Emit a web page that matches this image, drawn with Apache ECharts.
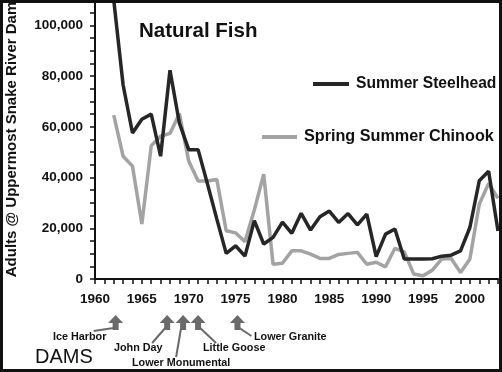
<!DOCTYPE html>
<html>
<head>
<meta charset="utf-8">
<script src="https://cdn.jsdelivr.net/npm/echarts@6/dist/echarts.min.js"></script>
<style>
html,body{margin:0;padding:0;background:#fff;}
#main{width:502px;height:372px;}
</style>
</head>
<body>
<div id="main"></div>
<script>
const years = [1962,1963,1964,1965,1966,1967,1968,1969,1970,1971,1972,1973,1974,1975,1976,1977,1978,1979,1980,1981,1982,1983,1984,1985,1986,1987,1988,1989,1990,1991,1992,1993,1994,1995,1996,1997,1998,1999,2000,2001,2002,2003];
const steelhead = [110000,76500,57600,63000,65000,48400,82300,61500,51000,51000,37500,23600,10100,13100,9000,23000,13800,16400,22400,18000,25900,19300,24500,26800,22300,25800,21300,25600,8800,17700,19700,7900,7900,7900,8000,9000,9400,11100,20300,38700,42500,18900];
const chinook = [64600,48400,44500,21700,52500,56300,57400,65200,46500,38600,38600,39200,19000,18200,14700,27200,41300,5800,6200,11100,11100,9800,8100,8100,9700,10100,10500,5800,6600,4800,12100,10700,2000,1300,3500,7900,8100,2600,7900,29500,37700,31800];
const xTickLabels = [1960,1965,1970,1975,1980,1985,1990,1995,2000];
const yTickLabels = [0,20000,40000,60000,80000,100000];
const dams = ['Ice Harbor','John Day','Lower Monumental','Little Goose','Lower Granite'];
const damYears = [1962.2,1967.7,1969.4,1971,1975.2];

const FONT = 'Liberation Sans';
const chart = echarts.init(document.getElementById('main'));
const pairs = arr => years.map((y,i)=>[y,arr[i]]);

chart.setOption({
  animation:false,
  backgroundColor:'#fff',
  title:{text:'Natural Fish',left:139,top:21,padding:0,
    textStyle:{fontFamily:FONT,fontWeight:'bold',fontSize:20.5,color:'#111'}},
  legend:[
    {data:['Summer Steelhead'],left:313,top:76,padding:0,itemWidth:36,itemHeight:4,icon:'rect',
      textStyle:{fontFamily:FONT,fontWeight:'bold',fontSize:15.6,color:'#111',padding:[0,0,0,2]}},
    {data:['Spring Summer Chinook'],left:262,top:129,padding:0,itemWidth:35,itemHeight:4,icon:'rect',
      textStyle:{fontFamily:FONT,fontWeight:'bold',fontSize:16.2,color:'#111',padding:[0,0,0,2]}}
  ],
  grid:{left:95,right:4,top:0,bottom:93,containLabel:false,outerBoundsMode:'none'},
  xAxis:{type:'value',min:1960,max:2003,interval:1,
    axisLine:{lineStyle:{color:'#111',width:2}},
    axisTick:{length:5,lineStyle:{color:'#111',width:1.5}},
    splitLine:{show:false},
    axisLabel:{margin:13,fontFamily:FONT,fontWeight:'bold',fontSize:13.5,color:'#111',
      formatter:v=>xTickLabels.indexOf(v)>=0?String(v):''}
  },
  yAxis:{type:'value',min:0,max:110000,interval:5000,
    name:'Adults @ Uppermost Snake River Dam',nameLocation:'middle',nameGap:76,nameRotate:90,
    nameTextStyle:{fontFamily:FONT,fontWeight:'bold',fontSize:15,color:'#111'},
    axisLine:{show:true,lineStyle:{color:'#111',width:2}},
    axisTick:{show:true,length:5,lineStyle:{color:'#111',width:1.5}},
    splitLine:{show:false},
    axisLabel:{margin:12,fontFamily:FONT,fontWeight:'bold',fontSize:13.5,color:'#111',
      formatter:v=>yTickLabels.indexOf(v)>=0?v.toLocaleString('en-US'):''}
  },
  series:[
    {name:'Summer Steelhead',type:'line',data:pairs(steelhead),showSymbol:false,
      lineStyle:{color:'#262626',width:3.5},itemStyle:{color:'#262626'},z:3},
    {name:'Spring Summer Chinook',type:'line',data:pairs(chinook),showSymbol:false,
      lineStyle:{color:'#a3a3a3',width:3.5},itemStyle:{color:'#a3a3a3'},z:2}
  ]
});

const labelPos = [
  {x:53,y:337.5,lx:-22,ly:331},
  {x:114,y:348,lx:-15,ly:343},
  {x:132,y:363,lx:-7,ly:357},
  {x:203,y:348,lx:18,ly:343},
  {x:254,y:337.5,lx:14,ly:336}
];
const g = [];
damYears.forEach((yr,i)=>{
  const px = chart.convertToPixel({xAxisIndex:0}, yr);
  const tip=315, mid=323, base=330, hw=7.5, sw=3;
  g.push({type:'polygon',shape:{points:[[px,tip],[px+hw,mid],[px+sw,mid],[px+sw,base],[px-sw,base],[px-sw,mid],[px-hw,mid]]},
    style:{fill:'#6a6a6a'}});
  const lp = labelPos[i];
  g.push({type:'line',shape:{x1:px+(lp.lx<0?-2:2),y1:base-2,x2:px+lp.lx,y2:lp.ly},style:{stroke:'#6a6a6a',lineWidth:2}});
  g.push({type:'text',x:lp.x,y:lp.y,style:{text:dams[i],font:'bold 10.8px "Liberation Sans"',fill:'#111',textVerticalAlign:'middle',textAlign:'left'}});
});
g.push({type:'text',x:35,y:357.5,style:{text:'DAMS',font:'20px "Liberation Sans"',fill:'#111',textVerticalAlign:'middle'}});
g.push({type:'rect',shape:{x:1.5,y:1.5,width:499,height:369},style:{fill:null,stroke:'#111',lineWidth:3},z:100});
chart.setOption({graphic:g});
</script>
</body>
</html>
